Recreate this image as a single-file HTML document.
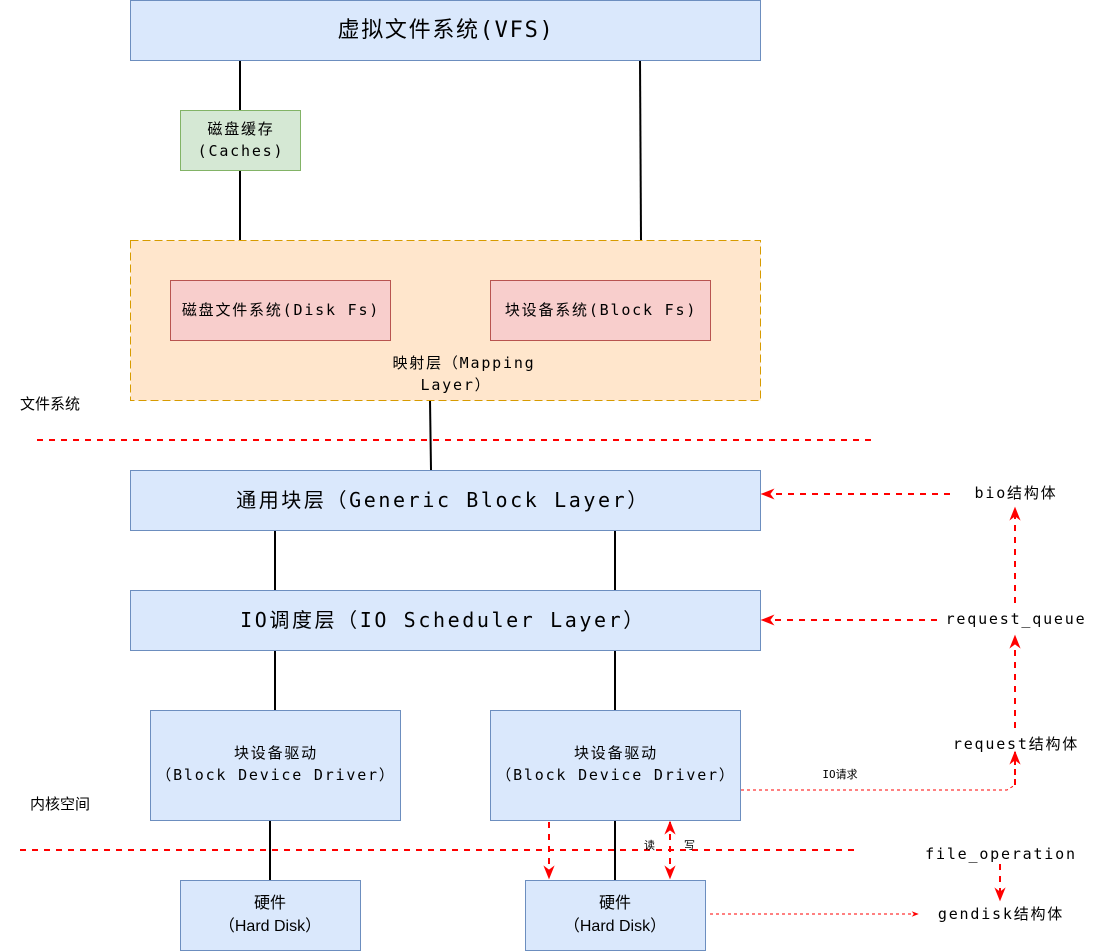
<!DOCTYPE html>
<html><head><meta charset="utf-8"><style>
html,body{margin:0;padding:0;background:#fff;width:1120px;height:952px;overflow:hidden}
svg text{font-family:"DejaVu Sans Mono","Noto Sans CJK SC",monospace;fill:#000}
.m{font-size:15px;letter-spacing:1.8px}
.s{font-family:"Liberation Sans","Noto Sans CJK SC",sans-serif !important;letter-spacing:0}
</style></head><body>
<svg width="1120" height="952" viewBox="0 0 1120 952" xmlns="http://www.w3.org/2000/svg">
<defs>
<marker id="a" viewBox="0 0 10 10" refX="9" refY="5" markerWidth="7" markerHeight="7" orient="auto-start-reverse"><path d="M0,1 L10,5 L0,9 L3,5 z" fill="#f00"/></marker>
</defs>
<g stroke="#000" stroke-width="2">
<line x1="240" y1="60" x2="240" y2="110"/><line x1="240" y1="170" x2="240" y2="240"/>
<line x1="640" y1="60" x2="641" y2="240"/>
<line x1="430" y1="400" x2="431" y2="470"/>
<line x1="275" y1="530" x2="275" y2="590"/><line x1="615" y1="530" x2="615" y2="590"/>
<line x1="275" y1="650" x2="275" y2="710"/><line x1="615" y1="650" x2="615" y2="710"/>
<line x1="270" y1="820" x2="270" y2="880"/><line x1="615" y1="820" x2="615" y2="880"/>
</g>
<rect x="130.5" y="0.5" width="630" height="60" fill="#dae8fc" stroke="#6c8ebf"/>
<text x="446" y="37" font-size="22" letter-spacing="1.7" text-anchor="middle">虚拟文件系统(VFS)</text>
<rect x="180.5" y="110.5" width="120" height="60" fill="#d5e8d4" stroke="#82b366"/>
<text x="241" y="134" class="m" text-anchor="middle">磁盘缓存</text>
<text x="241" y="156" class="m" text-anchor="middle">(Caches)</text>
<rect x="130.5" y="240.5" width="630" height="160" fill="#ffe6cc" stroke="#d79b00" stroke-dasharray="8,4"/>
<rect x="170.5" y="280.5" width="220" height="60" fill="#f8cecc" stroke="#b85450"/>
<text x="281" y="315" class="m" text-anchor="middle">磁盘文件系统(Disk Fs)</text>
<rect x="490.5" y="280.5" width="220" height="60" fill="#f8cecc" stroke="#b85450"/>
<text x="601" y="315" class="m" text-anchor="middle">块设备系统(Block Fs)</text>
<text x="464" y="368" class="m" text-anchor="middle">映射层（Mapping</text>
<text x="456" y="390" class="m" text-anchor="middle">Layer）</text>
<text x="20" y="409" font-size="15" class="s">文件系统</text>
<line x1="37" y1="440" x2="872" y2="440" stroke="#f00" stroke-width="2" stroke-dasharray="6,6"/>
<rect x="130.5" y="470.5" width="630" height="60" fill="#dae8fc" stroke="#6c8ebf"/>
<text x="443" y="507" font-size="20" letter-spacing="2.6" text-anchor="middle">通用块层（Generic Block Layer）</text>
<rect x="130.5" y="590.5" width="630" height="60" fill="#dae8fc" stroke="#6c8ebf"/>
<text x="443" y="627" font-size="20" letter-spacing="2.6" text-anchor="middle">IO调度层（IO Scheduler Layer）</text>
<rect x="150.5" y="710.5" width="250" height="110" fill="#dae8fc" stroke="#6c8ebf"/>
<text x="276" y="758" class="m" text-anchor="middle">块设备驱动</text>
<text x="276" y="780" class="m" text-anchor="middle">（Block Device Driver）</text>
<rect x="490.5" y="710.5" width="250" height="110" fill="#dae8fc" stroke="#6c8ebf"/>
<text x="616" y="758" class="m" text-anchor="middle">块设备驱动</text>
<text x="616" y="780" class="m" text-anchor="middle">（Block Device Driver）</text>
<text x="30" y="809" font-size="15" class="s">内核空间</text>
<line x1="20" y1="850" x2="855" y2="850" stroke="#f00" stroke-width="2" stroke-dasharray="6,6"/>
<rect x="180.5" y="880.5" width="180" height="70" fill="#dae8fc" stroke="#6c8ebf"/>
<text x="270" y="908" font-size="16" text-anchor="middle" class="s">硬件</text>
<text x="270" y="931" font-size="16" text-anchor="middle" class="s">（Hard Disk）</text>
<rect x="525.5" y="880.5" width="180" height="70" fill="#dae8fc" stroke="#6c8ebf"/>
<text x="615" y="908" font-size="16" text-anchor="middle" class="s">硬件</text>
<text x="615" y="931" font-size="16" text-anchor="middle" class="s">（Hard Disk）</text>
<g stroke="#f00" stroke-width="2" fill="none" stroke-dasharray="6,6">
<line x1="549" y1="822" x2="549" y2="878" marker-end="url(#a)"/>
<line x1="670" y1="822" x2="670" y2="878" marker-start="url(#a)" marker-end="url(#a)"/>
<line x1="950" y1="494" x2="762" y2="494" marker-end="url(#a)"/>
<line x1="937" y1="620" x2="762" y2="620" marker-end="url(#a)"/>
<line x1="1015" y1="603" x2="1015" y2="508" marker-end="url(#a)"/>
<line x1="1015" y1="728" x2="1015" y2="636" marker-end="url(#a)"/>
<line x1="1000" y1="864" x2="1000" y2="900" marker-end="url(#a)"/>
</g>
<g stroke="#f00" stroke-width="1" fill="none" stroke-dasharray="3,3">
<polyline points="741,790 1007,790 1015,785"/>
<line x1="710" y1="914" x2="918" y2="914" marker-end="url(#a)"/>
</g>
<line x1="1015" y1="785" x2="1015" y2="752" stroke="#f00" stroke-width="2" stroke-dasharray="6,4" marker-end="url(#a)"/>
<text x="644" y="849" font-size="11" class="s">读</text>
<text x="684" y="849" font-size="11" class="s">写</text>
<text x="840" y="778" font-size="11" text-anchor="middle">IO请求</text>
<text x="1016" y="498" class="m" text-anchor="middle">bio结构体</text>
<text x="1016" y="624" class="m" text-anchor="middle">request_queue</text>
<text x="1016" y="749" class="m" text-anchor="middle">request结构体</text>
<text x="1001" y="859" class="m" text-anchor="middle">file_operation</text>
<text x="1001" y="919" class="m" text-anchor="middle">gendisk结构体</text>
</svg>
</body></html>
